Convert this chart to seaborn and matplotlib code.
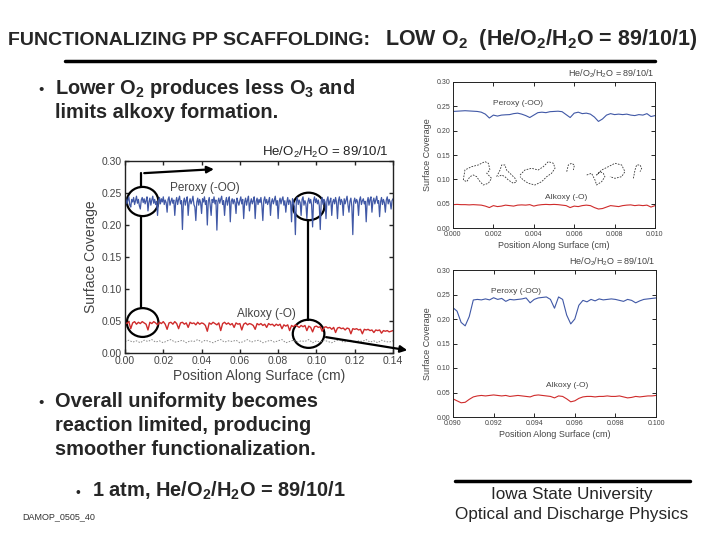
import numpy as np
import seaborn as sns
import matplotlib.pyplot as plt
from matplotlib.patches import Ellipse
from matplotlib.lines import Line2D

# ---- main plot: He/O2/H2O = 89/10/1, 0.00 - 0.14 cm ----
peroxy_main = [
    0.236, 0.241, 0.233, 0.239, 0.244, 0.231, 0.228, 0.240, 0.236, 0.243, 0.232, 0.238, 0.245, 0.234, 0.240, 0.230, 0.225, 0.239, 0.243, 0.235,
    0.241, 0.233, 0.238, 0.244, 0.222, 0.236, 0.242, 0.231, 0.239, 0.245, 0.234, 0.240, 0.232, 0.237, 0.215, 0.238, 0.243, 0.233, 0.241, 0.236,
    0.244, 0.232, 0.239, 0.235, 0.220, 0.240, 0.244, 0.231, 0.237, 0.242, 0.234, 0.239, 0.215, 0.236, 0.243, 0.232, 0.240, 0.245, 0.233, 0.238,
    0.193, 0.236, 0.242, 0.231, 0.239, 0.244, 0.215, 0.235, 0.241, 0.233, 0.238, 0.245, 0.232, 0.228, 0.207, 0.236, 0.242, 0.231, 0.240, 0.235,
    0.218, 0.241, 0.236, 0.244, 0.232, 0.238, 0.200, 0.237, 0.243, 0.231, 0.215, 0.240, 0.235, 0.244, 0.233, 0.239, 0.192, 0.236, 0.242, 0.234,
    0.240, 0.245, 0.232, 0.238, 0.215, 0.236, 0.243, 0.231, 0.239, 0.244, 0.205, 0.237, 0.241, 0.233, 0.240, 0.235, 0.218, 0.242, 0.236, 0.231,
    0.238, 0.244, 0.233, 0.240, 0.210, 0.236, 0.242, 0.231, 0.239, 0.245, 0.222, 0.235, 0.241, 0.233, 0.238, 0.244, 0.210, 0.237, 0.242, 0.232,
    0.240, 0.235, 0.243, 0.231, 0.207, 0.238, 0.244, 0.234, 0.240, 0.232, 0.237, 0.243, 0.215, 0.236, 0.241, 0.233, 0.239, 0.245, 0.231, 0.238,
    0.210, 0.236, 0.242, 0.233, 0.240, 0.244, 0.231, 0.238, 0.220, 0.235, 0.243, 0.232, 0.239, 0.236, 0.205, 0.241, 0.234, 0.229, 0.185, 0.237,
    0.243, 0.232, 0.239, 0.235, 0.215, 0.240, 0.244, 0.231, 0.238, 0.233, 0.210, 0.236, 0.242, 0.234, 0.240, 0.231, 0.197, 0.238, 0.244, 0.235,
    0.241, 0.233, 0.239, 0.230, 0.193, 0.237, 0.243, 0.232, 0.240, 0.236, 0.210, 0.239, 0.244, 0.231, 0.237, 0.242, 0.215, 0.236, 0.240, 0.233,
    0.243, 0.235, 0.210, 0.238, 0.244, 0.232, 0.240, 0.236, 0.215, 0.241, 0.233, 0.239, 0.245, 0.231, 0.220, 0.237, 0.242, 0.229, 0.185, 0.236,
    0.242, 0.234, 0.240, 0.236, 0.215, 0.239, 0.244, 0.232, 0.238, 0.241, 0.233, 0.237, 0.205, 0.236, 0.243, 0.231, 0.240, 0.244, 0.220, 0.237,
    0.242, 0.233, 0.239, 0.245, 0.234, 0.238, 0.213, 0.236, 0.243, 0.232, 0.240, 0.235, 0.220, 0.239, 0.244, 0.233, 0.240, 0.236, 0.225, 0.238,
    0.241,
]
alkoxy_main = [
    0.048, 0.046, 0.049, 0.038, 0.047, 0.049, 0.045, 0.048, 0.046, 0.049,
    0.047, 0.045, 0.036, 0.048, 0.046, 0.049, 0.047, 0.044, 0.048, 0.046,
    0.049, 0.045, 0.037, 0.047, 0.048, 0.045, 0.049, 0.046, 0.038, 0.047,
    0.048, 0.045, 0.047, 0.040, 0.048, 0.046, 0.047, 0.044, 0.048, 0.045,
    0.047, 0.046, 0.043, 0.034, 0.047, 0.045, 0.048, 0.046, 0.044, 0.047,
    0.035, 0.046, 0.048, 0.045, 0.047, 0.044, 0.046, 0.040, 0.047, 0.045,
    0.046, 0.036, 0.045, 0.047, 0.044, 0.046, 0.045, 0.043, 0.037, 0.046,
    0.044, 0.046, 0.043, 0.045, 0.040, 0.046, 0.044, 0.045, 0.042, 0.045,
    0.043, 0.045, 0.038, 0.044, 0.042, 0.044, 0.035, 0.043, 0.041, 0.044,
    0.042, 0.040, 0.043, 0.041, 0.043, 0.035, 0.042, 0.040, 0.033, 0.041,
    0.042, 0.040, 0.041, 0.034, 0.040, 0.041, 0.039, 0.040, 0.037, 0.040,
    0.032, 0.039, 0.040, 0.038, 0.039, 0.036, 0.039, 0.038, 0.030, 0.038,
    0.037, 0.038, 0.036, 0.037, 0.030, 0.037, 0.036, 0.037, 0.035, 0.036,
    0.032, 0.036, 0.035, 0.036, 0.031, 0.035, 0.034, 0.035, 0.033, 0.034, 0.035,
]
minor_main = [
    0.018, 0.020, 0.017, 0.019, 0.016, 0.020, 0.018, 0.021, 0.017, 0.019,
    0.016, 0.019, 0.021, 0.017, 0.018, 0.020, 0.016, 0.019, 0.018, 0.021,
    0.017, 0.020, 0.018, 0.016, 0.019, 0.021, 0.017, 0.019, 0.018, 0.020,
    0.016, 0.018, 0.021, 0.017, 0.019, 0.020, 0.016, 0.018, 0.020, 0.017,
    0.019, 0.021, 0.016, 0.018, 0.020, 0.017, 0.019, 0.018, 0.021, 0.016,
    0.019, 0.017, 0.020, 0.018, 0.016, 0.019, 0.021, 0.017, 0.018, 0.020,
    0.016, 0.019, 0.018, 0.021, 0.017, 0.019, 0.016, 0.020, 0.018, 0.017, 0.019,
]

# ---- zoom 0.000 - 0.010 cm ----
peroxy_zoom1 = [
    0.2395, 0.240, 0.2405, 0.241, 0.2405, 0.240, 0.2395, 0.238, 0.234, 0.226,
    0.232, 0.230, 0.232, 0.2326, 0.233, 0.235, 0.236, 0.234, 0.231, 0.227,
    0.232, 0.237, 0.238, 0.237, 0.239, 0.2395, 0.240, 0.239, 0.233, 0.227,
    0.236, 0.238, 0.235, 0.236, 0.234, 0.228, 0.219, 0.224, 0.232, 0.235,
    0.233, 0.234, 0.233, 0.234, 0.232, 0.231, 0.233, 0.232, 0.235, 0.229, 0.231,
]
alkoxy_zoom1 = [
    0.048, 0.0485, 0.048, 0.048, 0.0475, 0.048, 0.0475, 0.047, 0.045, 0.042,
    0.046, 0.044, 0.045, 0.047, 0.046, 0.045, 0.047, 0.0475, 0.047, 0.048,
    0.045, 0.047, 0.048, 0.0485, 0.048, 0.0485, 0.048, 0.047, 0.046, 0.042,
    0.045, 0.044, 0.046, 0.047, 0.046, 0.042, 0.039, 0.040, 0.043, 0.046,
    0.045, 0.044, 0.046, 0.047, 0.0475, 0.046, 0.047, 0.046, 0.047, 0.043, 0.046,
]
# dashed loops drawn in the first zoom
loops_x = [
    [0.00051, 0.00059, 0.00092, 0.00125, 0.00158, 0.00175, 0.00183, 0.00167, 0.00191,
     0.00175, 0.00150, 0.00134, 0.00117, 0.00101, 0.00084, 0.00068, 0.00051],
    [0.00216, 0.00233, 0.00241, 0.00257, 0.00265, 0.00282, 0.00307, 0.00315, 0.00299,
     0.00274, 0.00257, 0.00241, 0.00224],
    [0.00332, 0.00356, 0.00389, 0.00422, 0.00447, 0.00472, 0.00497, 0.00505, 0.00488,
     0.00464, 0.00439, 0.00406, 0.00373, 0.00348, 0.00332],
    [0.00563, 0.00571, 0.00587, 0.00601, 0.00596],
    [0.00662, 0.00686, 0.00703, 0.00711, 0.00736, 0.00752, 0.00744, 0.00728, 0.00711,
     0.00736, 0.00769, 0.00802, 0.00835, 0.00851, 0.00835, 0.00802, 0.00777],
    [0.00893, 0.00901, 0.00909, 0.00926, 0.00934, 0.00926],
]
loops_y = [
    [0.0986, 0.1192, 0.1260, 0.1295, 0.1364, 0.1330, 0.1192, 0.1124, 0.1021,
     0.0918, 0.0884, 0.0952, 0.1055, 0.1089, 0.1055, 0.0952, 0.0986],
    [0.1055, 0.1192, 0.1295, 0.1295, 0.1192, 0.1124, 0.1021, 0.0952, 0.0918,
     0.0986, 0.1055, 0.1089, 0.1055],
    [0.1089, 0.1192, 0.1227, 0.1192, 0.1260, 0.1364, 0.1330, 0.1227, 0.1124,
     0.1055, 0.0952, 0.0884, 0.0918, 0.0986, 0.1055],
    [0.1158, 0.1295, 0.1330, 0.1295, 0.1192],
    [0.1089, 0.1124, 0.0986, 0.0884, 0.0952, 0.1055, 0.1124, 0.1158, 0.1089,
     0.1192, 0.1260, 0.1330, 0.1295, 0.1158, 0.1055, 0.1021, 0.1055],
    [0.1021, 0.1192, 0.1295, 0.1295, 0.1227, 0.1158],
]

# ---- zoom 0.090 - 0.100 cm ----
peroxy_zoom2 = [
    0.223, 0.216, 0.193, 0.186, 0.205, 0.2388, 0.240, 0.239, 0.241, 0.239,
    0.2434, 0.240, 0.242, 0.236, 0.240, 0.239, 0.240, 0.241, 0.243, 0.233,
    0.240, 0.243, 0.244, 0.245, 0.240, 0.222, 0.245, 0.240, 0.208, 0.190,
    0.200, 0.228, 0.238, 0.235, 0.240, 0.237, 0.241, 0.239, 0.240, 0.241,
    0.240, 0.238, 0.236, 0.240, 0.238, 0.233, 0.237, 0.240, 0.241, 0.242, 0.243,
]
alkoxy_zoom2 = [
    0.037, 0.033, 0.029, 0.030, 0.036, 0.041, 0.043, 0.044, 0.043, 0.044,
    0.045, 0.044, 0.043, 0.044, 0.042, 0.043, 0.044, 0.043, 0.042, 0.041,
    0.044, 0.045, 0.044, 0.043, 0.042, 0.039, 0.043, 0.042, 0.037, 0.031,
    0.033, 0.038, 0.041, 0.042, 0.042, 0.041, 0.042, 0.042, 0.043, 0.042,
    0.042, 0.043, 0.041, 0.039, 0.040, 0.042, 0.041, 0.042, 0.043, 0.043, 0.044,
]

BLUE = "#4058a6"
RED = "#cf2b2b"
GRAY = "#444444"

sns.set_style("ticks")
plt.rcParams['font.family'] = ['Liberation Sans', 'DejaVu Sans']
plt.rcParams['mathtext.fontset'] = 'custom'
plt.rcParams['mathtext.rm'] = 'Liberation Sans'
plt.rcParams['mathtext.it'] = 'Liberation Sans:italic'
plt.rcParams['mathtext.bf'] = 'Liberation Sans:bold'

fig = plt.figure(figsize=(7.2, 5.4), dpi=100)


def fx(x):
    return x / 720


def fy(y):
    return 1 - y / 540


def make_axes(left, top, right, bottom):
    return fig.add_axes([fx(left), fy(bottom), (right - left) / 720, (bottom - top) / 540])


def style_axes(ax, xlim, xticks, xfmt, tick_fs, label_fs, lw):
    ax.set_xlim(*xlim)
    ax.set_ylim(0, 0.30)
    ax.set_xticks(xticks)
    ax.set_xticklabels([xfmt % t for t in xticks])
    ax.set_yticks([0.0, 0.05, 0.10, 0.15, 0.20, 0.25, 0.30])
    ax.set_yticklabels(["%.2f" % t for t in ax.get_yticks()])
    ax.tick_params(direction='in', top=True, right=True, labelsize=tick_fs,
                   labelcolor=GRAY, length=3, width=lw, pad=2)
    for s in ax.spines.values():
        s.set_linewidth(lw)
        s.set_color("#222222")
    ax.set_xlabel("Position Along Surface (cm)", fontsize=label_fs, color=GRAY, labelpad=2)
    ax.set_ylabel("Surface Coverage", fontsize=label_fs, color=GRAY, labelpad=3)


# ---------------- main plot ----------------
ax = make_axes(125, 161, 393, 353)
pos_main = np.linspace(0, 0.14, len(peroxy_main))
pos_alk = np.linspace(0, 0.14, len(alkoxy_main))
pos_minor = np.linspace(0, 0.14, len(minor_main))
sns.lineplot(x=pos_main, y=peroxy_main, ax=ax, color=BLUE, lw=0.9, estimator=None, sort=False)
sns.lineplot(x=pos_alk, y=alkoxy_main, ax=ax, color=RED, lw=1.0, estimator=None, sort=False)
sns.lineplot(x=pos_minor, y=minor_main, ax=ax, color="#888888", lw=0.7,
             linestyle=(0, (1.5, 1.5)), estimator=None, sort=False)
style_axes(ax, (0, 0.14), [0, 0.02, 0.04, 0.06, 0.08, 0.10, 0.12, 0.14], "%.2f", 7.5, 10, 1.0)
ax.text(0.0415, 0.258, "Peroxy (-OO)", fontsize=8.5, color=GRAY, ha='center', va='center')
ax.text(0.074, 0.061, "Alkoxy (-O)", fontsize=8.5, color=GRAY, ha='center', va='center')
ax.text(0.1375, 0.313, "He/O$_2$/H$_2$O = 89/10/1", fontsize=9.5, color="#222222",
        ha='right', va='center')

# circles + connectors
for cx, cy, h in [(0.0092, 0.2367, 0.0456), (0.0092, 0.0476, 0.045),
                  (0.0959, 0.229, 0.043), (0.0959, 0.030, 0.044)]:
    ax.add_patch(Ellipse((cx, cy), 0.0165, h, fill=False, lw=1.6, ec='black', clip_on=False))
ax.plot([0.0084, 0.0084], [0.2139, 0.0701], color='black', lw=1.6)
ax.plot([0.0954, 0.0954], [0.2076, 0.052], color='black', lw=1.6)
ax.plot([0.0086, 0.0086], [0.2595, 0.2808], color='black', lw=1.6, clip_on=False)
ax.annotate("", xy=(0.0479, 0.2875), xytext=(0.0086, 0.2808), annotation_clip=False,
            arrowprops=dict(arrowstyle='-|>', color='black', lw=1.6, mutation_scale=10))
ax.annotate("", xy=(0.1489, 0.0036), xytext=(0.1036, 0.0255), annotation_clip=False,
            arrowprops=dict(arrowstyle='-|>', color='black', lw=1.6, mutation_scale=10))

# ---------------- zoom 1 (top right) ----------------
ax1 = make_axes(453, 82, 655, 228)
pos_z1 = np.linspace(0.0, 0.010, len(peroxy_zoom1))
sns.lineplot(x=pos_z1, y=peroxy_zoom1, ax=ax1, color=BLUE, lw=0.8, estimator=None, sort=False)
sns.lineplot(x=pos_z1, y=alkoxy_zoom1, ax=ax1, color=RED, lw=0.8, estimator=None, sort=False)
for lx, ly in zip(loops_x, loops_y):
    sns.lineplot(x=lx, y=ly, ax=ax1, color="#333333", lw=0.6, linestyle=(0, (2, 1.5)),
                 estimator=None, sort=False)
style_axes(ax1, (0, 0.010), [0, 0.002, 0.004, 0.006, 0.008, 0.010], "%.3f", 5, 6.5, 0.7)
ax1.text(0.0032, 0.255, "Peroxy (-OO)", fontsize=6, color=GRAY, ha='center', va='center')
ax1.text(0.0056, 0.062, "Alkoxy (-O)", fontsize=6, color=GRAY, ha='center', va='center')
ax1.text(0.010, 0.316, "He/O$_2$/H$_2$O = 89/10/1", fontsize=6.5, color=GRAY,
         ha='right', va='center')

# ---------------- zoom 2 (bottom right) ----------------
ax2 = make_axes(453, 270, 656, 417)
pos_z2 = np.linspace(0.090, 0.100, len(peroxy_zoom2))
sns.lineplot(x=pos_z2, y=peroxy_zoom2, ax=ax2, color=BLUE, lw=0.8, estimator=None, sort=False)
sns.lineplot(x=pos_z2, y=alkoxy_zoom2, ax=ax2, color=RED, lw=0.8, estimator=None, sort=False)
style_axes(ax2, (0.090, 0.100), [0.090, 0.092, 0.094, 0.096, 0.098, 0.100], "%.3f", 5, 6.5, 0.7)
ax2.text(0.0931, 0.257, "Peroxy (-OO)", fontsize=6, color=GRAY, ha='center', va='center')
ax2.text(0.0956, 0.064, "Alkoxy (-O)", fontsize=6, color=GRAY, ha='center', va='center')
ax2.text(0.100, 0.316, "He/O$_2$/H$_2$O = 89/10/1", fontsize=6.5, color=GRAY,
         ha='right', va='center')

# ---------------- slide text ----------------
fig.text(fx(8), fy(45), "FUNCTIONALIZING PP SCAFFOLDING:", fontsize=14, weight='bold',
         va='baseline')
fig.text(fx(385), fy(45), r"LOW O$_\mathbf{2}$  (He/O$_\mathbf{2}$/H$_\mathbf{2}$O = 89/10/1)",
         fontsize=15.5, weight='bold', va='baseline')
fig.add_artist(Line2D([fx(65), fx(655)], [fy(61), fy(61)], transform=fig.transFigure,
                      lw=2.5, color='black'))

BODY = 14.4
fig.text(fx(38), fy(94), "\u2022", fontsize=11, va='baseline')
fig.text(fx(55), fy(94), r"Lower O$_\mathbf{2}$ produces less O$_\mathbf{3}$ and", fontsize=BODY,
         weight='bold', va='baseline')
fig.text(fx(55), fy(118), "limits alkoxy formation.", fontsize=BODY, weight='bold', va='baseline')

fig.text(fx(38), fy(407), "\u2022", fontsize=11, va='baseline')
for i, line in enumerate(["Overall uniformity becomes", "reaction limited, producing",
                          "smoother functionalization."]):
    fig.text(fx(55), fy(407 + 24 * i), line, fontsize=BODY, weight='bold', va='baseline')

fig.text(fx(76), fy(497), "\u2022", fontsize=10, va='baseline')
fig.text(fx(92), fy(497), r"1 atm, He/O$_\mathbf{2}$/H$_\mathbf{2}$O = 89/10/1", fontsize=BODY,
         weight='bold', va='baseline')
fig.text(fx(22), fy(517), "DAMOP_0505_40", fontsize=6.5, color="#333333", va='center')

fig.add_artist(Line2D([fx(455), fx(690)], [fy(481), fy(481)], transform=fig.transFigure,
                      lw=2.5, color='black'))
fig.text(fx(572), fy(494), "Iowa State University", fontsize=12.3, ha='center', va='center')
fig.text(fx(572), fy(514), "Optical and Discharge Physics", fontsize=12.3, ha='center', va='center')

fig.savefig("out.png", dpi=100)
